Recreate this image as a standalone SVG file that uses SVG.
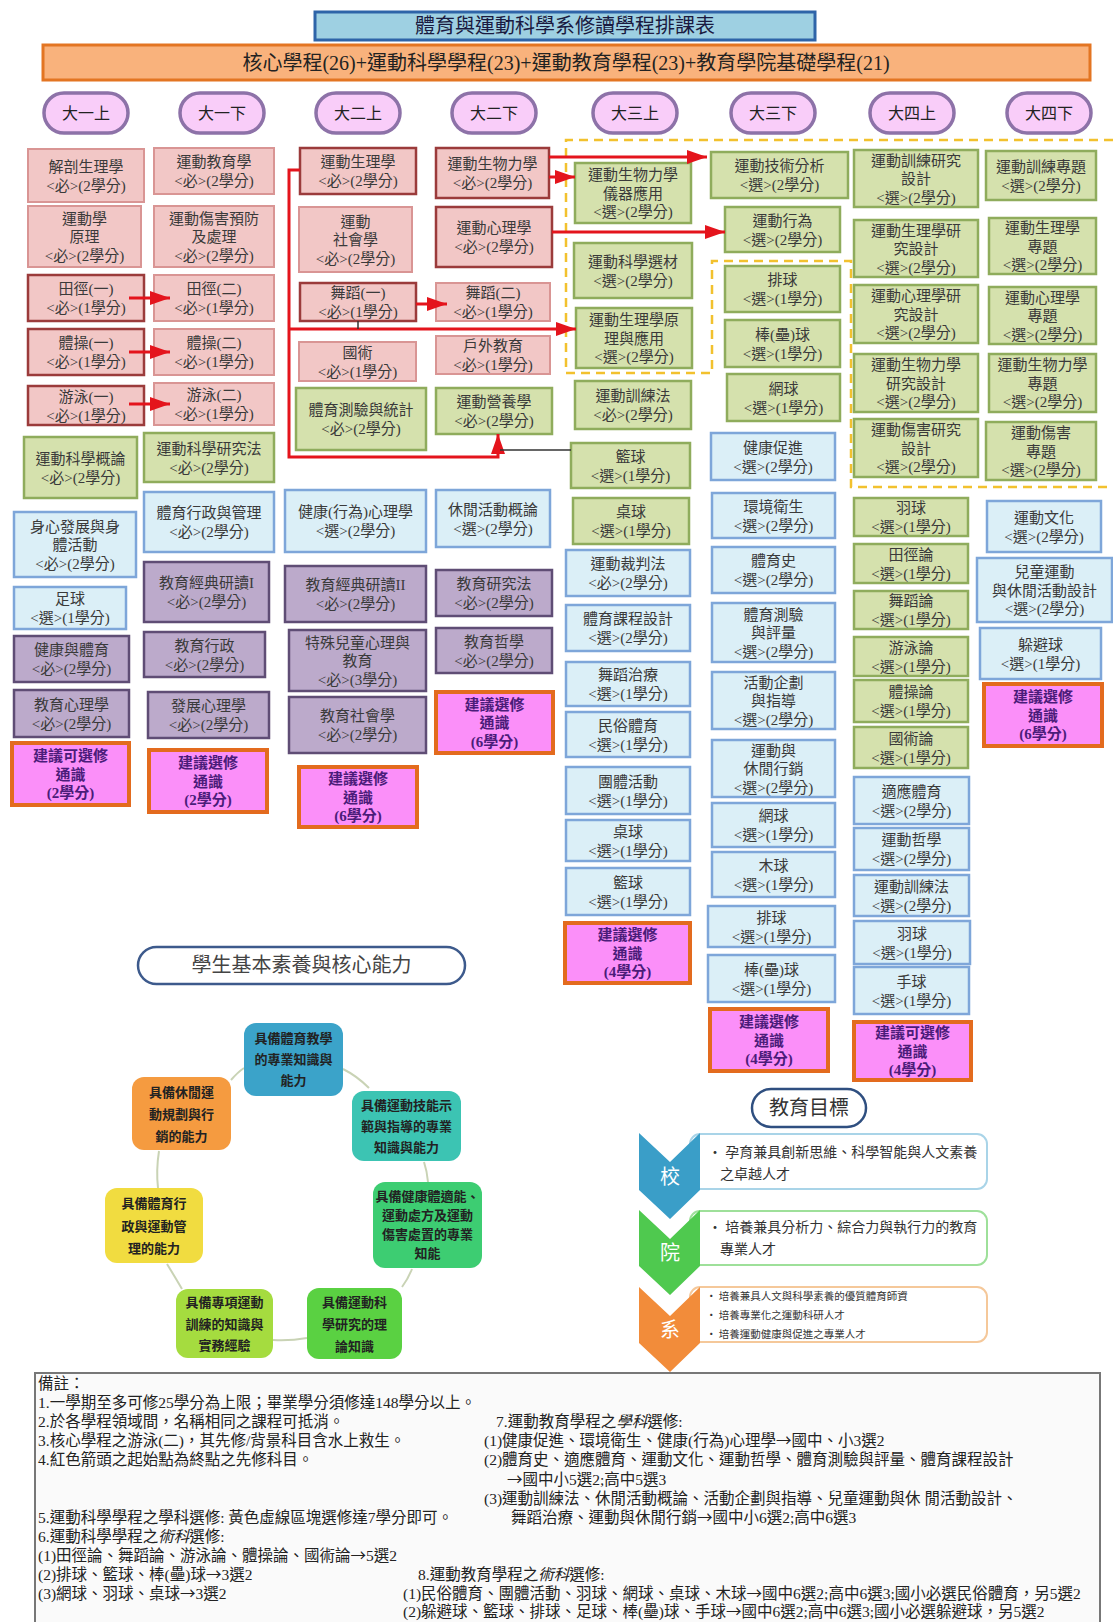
<svg xmlns="http://www.w3.org/2000/svg" width="1113" height="1622" viewBox="0 0 1113 1622">
<style>
.t{font-family:"Liberation Serif","Noto Sans CJK TC",serif;font-size:15px;fill:#3a3a3a;text-anchor:middle}
.tg{font-family:"Liberation Serif","Noto Sans CJK TC",serif;font-size:15px;fill:#4b1c7a;font-weight:bold;text-anchor:middle}
.pk{fill:#f2c7c6;stroke:#d99594;stroke-width:2}
.pkd{fill:#f2c7c6;stroke:#9b3b3b;stroke-width:2.5}
.gr{fill:#d5e1ad;stroke:#8fac5c;stroke-width:2.5}
.bl{fill:#dbeff7;stroke:#7ea6d9;stroke-width:2.5}
.pu{fill:#bcaacb;stroke:#5f4d75;stroke-width:2.5}
.ge{fill:#fb8ff9;stroke:#e36b1e;stroke-width:4}
.pill{fill:#f9cdf9;stroke:#8d72a8;stroke-width:3.5}
.pt{font-family:"Noto Sans CJK TC",sans-serif;font-size:16px;fill:#222;text-anchor:middle}
.ar{fill:none;stroke:#e4141c;stroke-width:3}
.thin{fill:none;stroke:#333;stroke-width:1.5}
.cy{font-family:"Noto Sans CJK TC",sans-serif;font-weight:bold;font-size:13px;fill:#222;text-anchor:middle}
.cl{fill:none;stroke:#c9d3b5;stroke-width:2}
.nt{font-family:"Liberation Serif","Noto Sans CJK TC",serif;font-size:15.5px;fill:#222}
.aw{font-family:"Noto Sans CJK TC",sans-serif}
.gt{font-family:"Noto Sans CJK TC",sans-serif;font-size:14px;fill:#333}
.gs{font-family:"Noto Sans CJK TC",sans-serif;font-size:10.5px;fill:#333}
.cv{font-family:"Noto Sans CJK TC",sans-serif;font-size:20px;fill:#fff;text-anchor:middle}
</style>
<defs>
<marker id="ah" markerUnits="userSpaceOnUse" markerWidth="20" markerHeight="14" refX="20" refY="7" orient="auto"><path d="M0,0 L20,7 L0,14 z" fill="#e4141c"/></marker>
</defs>
<rect width="1113" height="1622" fill="#fff"/>

<g id="title"><rect x="315" y="12" width="500" height="28" fill="#9ed0e2" stroke="#2e64a8" stroke-width="3"/><text x="565" y="33" font-family="Noto Sans CJK TC,sans-serif" font-size="20" fill="#1a1a40" text-anchor="middle">體育與運動科學系修讀學程排課表</text></g>
<g id="summary"><rect x="43" y="45" width="1047" height="35" fill="#f9b27c" stroke="#e37522" stroke-width="3"/><text x="566" y="69.5" font-family="Liberation Serif,Noto Sans CJK TC,serif" font-size="20" fill="#222" text-anchor="middle">核心學程(26)+運動科學學程(23)+運動教育學程(23)+教育學院基礎學程(21)</text></g>

<g id="semesters">
<g id="s1"><rect class="pill" x="44" y="93" width="84" height="40" rx="20"/><text class="pt" x="86" y="119">大一上</text></g>
<g id="s2"><rect class="pill" x="180" y="93" width="84" height="40" rx="20"/><text class="pt" x="222" y="119">大一下</text></g>
<g id="s3"><rect class="pill" x="316" y="93" width="84" height="40" rx="20"/><text class="pt" x="358" y="119">大二上</text></g>
<g id="s4"><rect class="pill" x="452" y="93" width="84" height="40" rx="20"/><text class="pt" x="494" y="119">大二下</text></g>
<g id="s5"><rect class="pill" x="593" y="93" width="84" height="40" rx="20"/><text class="pt" x="635" y="119">大三上</text></g>
<g id="s6"><rect class="pill" x="731" y="93" width="84" height="40" rx="20"/><text class="pt" x="773" y="119">大三下</text></g>
<g id="s7"><rect class="pill" x="870" y="93" width="84" height="40" rx="20"/><text class="pt" x="912" y="119">大四上</text></g>
<g id="s8"><rect class="pill" x="1007" y="93" width="84" height="40" rx="20"/><text class="pt" x="1049" y="119">大四下</text></g>
</g>

<g id="elective-zone"><path d="M1113,140 H566 V373 H712 V261 H851 V487 H1113" fill="none" stroke="#f2c12e" stroke-width="2.5" stroke-dasharray="9 6"/></g>

<!-- column 1 -->
<g id="n01"><rect class="pk" x="28" y="149" width="116" height="53"/><text class="t" x="86" y="171.5">解剖生理學<tspan x="86" dy="19">&lt;必&gt;(2學分)</tspan></text></g>
<g id="n02"><rect class="pk" x="28" y="206" width="113" height="61"/><text class="t" x="84.5" y="223.5">運動學<tspan x="84.5" dy="18.5">原理</tspan><tspan x="84.5" dy="18.5">&lt;必&gt;(2學分)</tspan></text></g>
<g id="n03"><rect class="pkd" x="28" y="275" width="116" height="46"/><text class="t" x="86" y="294">田徑(一)<tspan x="86" dy="19">&lt;必&gt;(1學分)</tspan></text></g>
<g id="n04"><rect class="pkd" x="28" y="329" width="116" height="46"/><text class="t" x="86" y="348">體操(一)<tspan x="86" dy="19">&lt;必&gt;(1學分)</tspan></text></g>
<g id="n05"><rect class="pkd" x="28" y="386" width="116" height="39"/><text class="t" x="86" y="401.5">游泳(一)<tspan x="86" dy="19">&lt;必&gt;(1學分)</tspan></text></g>
<g id="n06"><rect class="gr" x="24" y="437" width="113" height="61"/><text class="t" x="80.5" y="463.5">運動科學概論<tspan x="80.5" dy="19">&lt;必&gt;(2學分)</tspan></text></g>
<g id="n07"><rect class="bl" x="14" y="512" width="122" height="65"/><text class="t" x="75" y="531.5">身心發展與身<tspan x="75" dy="18.5">體活動</tspan><tspan x="75" dy="18.5">&lt;必&gt;(2學分)</tspan></text></g>
<g id="n08"><rect class="bl" x="14" y="587" width="112" height="42"/><text class="t" x="70" y="604">足球<tspan x="70" dy="19">&lt;選&gt;(1學分)</tspan></text></g>
<g id="n09"><rect class="pu" x="14" y="636" width="115" height="46"/><text class="t" x="71.5" y="655">健康與體育<tspan x="71.5" dy="19">&lt;必&gt;(2學分)</tspan></text></g>
<g id="n10"><rect class="pu" x="14" y="690" width="115" height="47"/><text class="t" x="71.5" y="709.5">教育心理學<tspan x="71.5" dy="19">&lt;必&gt;(2學分)</tspan></text></g>
<g id="n11"><rect class="ge" x="12" y="743" width="117" height="62"/><text class="tg" x="70.5" y="761">建議可選修<tspan x="70.5" dy="18.5">通識</tspan><tspan x="70.5" dy="18.5">(2學分)</tspan></text></g>

<!-- column 2 -->
<g id="n12"><rect class="pk" x="154" y="148" width="120" height="46"/><text class="t" x="214" y="167">運動教育學<tspan x="214" dy="19">&lt;必&gt;(2學分)</tspan></text></g>
<g id="n13"><rect class="pk" x="154" y="206" width="120" height="61"/><text class="t" x="214" y="223.5">運動傷害預防<tspan x="214" dy="18.5">及處理</tspan><tspan x="214" dy="18.5">&lt;必&gt;(2學分)</tspan></text></g>
<g id="n14"><rect class="pk" x="154" y="275" width="120" height="46"/><text class="t" x="214" y="294">田徑(二)<tspan x="214" dy="19">&lt;必&gt;(1學分)</tspan></text></g>
<g id="n15"><rect class="pk" x="154" y="329" width="120" height="46"/><text class="t" x="214" y="348">體操(二)<tspan x="214" dy="19">&lt;必&gt;(1學分)</tspan></text></g>
<g id="n16"><rect class="pk" x="154" y="383" width="120" height="42"/><text class="t" x="214" y="400">游泳(二)<tspan x="214" dy="19">&lt;必&gt;(1學分)</tspan></text></g>
<g id="n17"><rect class="gr" x="144" y="433" width="130" height="49"/><text class="t" x="209" y="453.5">運動科學研究法<tspan x="209" dy="19">&lt;必&gt;(2學分)</tspan></text></g>
<g id="n18"><rect class="bl" x="144" y="492" width="130" height="60"/><text class="t" x="209" y="518">體育行政與管理<tspan x="209" dy="19">&lt;必&gt;(2學分)</tspan></text></g>
<g id="n19"><rect class="pu" x="144" y="562" width="125" height="60"/><text class="t" x="206.5" y="588">教育經典研讀I<tspan x="206.5" dy="19">&lt;必&gt;(2學分)</tspan></text></g>
<g id="n20"><rect class="pu" x="144" y="632" width="121" height="45"/><text class="t" x="204.5" y="650.5">教育行政<tspan x="204.5" dy="19">&lt;必&gt;(2學分)</tspan></text></g>
<g id="n21"><rect class="pu" x="148" y="692" width="121" height="46"/><text class="t" x="208.5" y="711">發展心理學<tspan x="208.5" dy="19">&lt;必&gt;(2學分)</tspan></text></g>
<g id="n22"><rect class="ge" x="149" y="750" width="118" height="62"/><text class="tg" x="208" y="768">建議選修<tspan x="208" dy="18.5">通識</tspan><tspan x="208" dy="18.5">(2學分)</tspan></text></g>

<!-- column 3 -->
<g id="n23"><rect class="pkd" x="300" y="148" width="116" height="46"/><text class="t" x="358" y="167">運動生理學<tspan x="358" dy="19">&lt;必&gt;(2學分)</tspan></text></g>
<g id="n24"><rect class="pk" x="299" y="207" width="113" height="65"/><text class="t" x="355.5" y="226.5">運動<tspan x="355.5" dy="18.5">社會學</tspan><tspan x="355.5" dy="18.5">&lt;必&gt;(2學分)</tspan></text></g>
<g id="n25"><rect class="pkd" x="300" y="283" width="116" height="38"/><text class="t" x="358" y="298">舞蹈(一)<tspan x="358" dy="19">&lt;必&gt;(1學分)</tspan></text></g>
<g id="n26"><rect class="pk" x="299" y="342" width="117" height="39"/><text class="t" x="357.5" y="357.5">國術<tspan x="357.5" dy="19">&lt;必&gt;(1學分)</tspan></text></g>
<g id="n27"><rect class="gr" x="296" y="388" width="130" height="62"/><text class="t" x="361" y="415">體育測驗與統計<tspan x="361" dy="19">&lt;必&gt;(2學分)</tspan></text></g>
<g id="n28"><rect class="bl" x="285" y="490" width="141" height="62"/><text class="t" x="355.5" y="517">健康(行為)心理學<tspan x="355.5" dy="19">&lt;選&gt;(2學分)</tspan></text></g>
<g id="n29"><rect class="pu" x="285" y="566" width="141" height="56"/><text class="t" x="355.5" y="590">教育經典研讀II<tspan x="355.5" dy="19">&lt;必&gt;(2學分)</tspan></text></g>
<g id="n30"><rect class="pu" x="289" y="630" width="137" height="61"/><text class="t" x="357.5" y="647.5">特殊兒童心理與<tspan x="357.5" dy="18.5">教育</tspan><tspan x="357.5" dy="18.5">&lt;必&gt;(3學分)</tspan></text></g>
<g id="n31"><rect class="pu" x="289" y="697" width="137" height="56"/><text class="t" x="357.5" y="721">教育社會學<tspan x="357.5" dy="19">&lt;必&gt;(2學分)</tspan></text></g>
<g id="n32"><rect class="ge" x="299" y="767" width="118" height="60"/><text class="tg" x="358" y="784">建議選修<tspan x="358" dy="18.5">通識</tspan><tspan x="358" dy="18.5">(6學分)</tspan></text></g>

<!-- column 4 -->
<g id="n33"><rect class="pkd" x="436" y="148" width="113" height="50"/><text class="t" x="492.5" y="169">運動生物力學<tspan x="492.5" dy="19">&lt;必&gt;(2學分)</tspan></text></g>
<g id="n34"><rect class="pkd" x="436" y="207" width="116" height="60"/><text class="t" x="494" y="233">運動心理學<tspan x="494" dy="19">&lt;必&gt;(2學分)</tspan></text></g>
<g id="n35"><rect class="pk" x="436" y="283" width="114" height="38"/><text class="t" x="493" y="298">舞蹈(二)<tspan x="493" dy="19">&lt;必&gt;(1學分)</tspan></text></g>
<g id="n36"><rect class="pk" x="436" y="336" width="114" height="38"/><text class="t" x="493" y="351">戶外教育<tspan x="493" dy="19">&lt;必&gt;(1學分)</tspan></text></g>
<g id="n37"><rect class="gr" x="436" y="388" width="116" height="46"/><text class="t" x="494" y="407">運動營養學<tspan x="494" dy="19">&lt;必&gt;(2學分)</tspan></text></g>
<g id="n38"><rect class="bl" x="436" y="490" width="114" height="57"/><text class="t" x="493" y="514.5">休閒活動概論<tspan x="493" dy="19">&lt;選&gt;(2學分)</tspan></text></g>
<g id="n39"><rect class="pu" x="436" y="570" width="116" height="46"/><text class="t" x="494" y="589">教育研究法<tspan x="494" dy="19">&lt;必&gt;(2學分)</tspan></text></g>
<g id="n40"><rect class="pu" x="436" y="628" width="116" height="45"/><text class="t" x="494" y="646.5">教育哲學<tspan x="494" dy="19">&lt;必&gt;(2學分)</tspan></text></g>
<g id="n41"><rect class="ge" x="436" y="692" width="117" height="61"/><text class="tg" x="494.5" y="709.5">建議選修<tspan x="494.5" dy="18.5">通識</tspan><tspan x="494.5" dy="18.5">(6學分)</tspan></text></g>

<!-- column 5 -->
<g id="n42"><rect class="gr" x="575" y="163" width="116" height="60"/><text class="t" x="633" y="180">運動生物力學<tspan x="633" dy="18.5">儀器應用</tspan><tspan x="633" dy="18.5">&lt;選&gt;(2學分)</tspan></text></g>
<g id="n43"><rect class="gr" x="574" y="243" width="118" height="55"/><text class="t" x="633" y="266.5">運動科學選材<tspan x="633" dy="19">&lt;選&gt;(2學分)</tspan></text></g>
<g id="n44"><rect class="gr" x="576" y="308" width="116" height="60"/><text class="t" x="634" y="325">運動生理學原<tspan x="634" dy="18.5">理與應用</tspan><tspan x="634" dy="18.5">&lt;選&gt;(2學分)</tspan></text></g>
<g id="n45"><rect class="gr" x="575" y="381" width="116" height="48"/><text class="t" x="633" y="401">運動訓練法<tspan x="633" dy="19">&lt;必&gt;(2學分)</tspan></text></g>
<g id="n46"><rect class="gr" x="571" y="443" width="119" height="45"/><text class="t" x="630.5" y="461.5">籃球<tspan x="630.5" dy="19">&lt;選&gt;(1學分)</tspan></text></g>
<g id="n47"><rect class="gr" x="573" y="498" width="116" height="46"/><text class="t" x="631" y="517">桌球<tspan x="631" dy="19">&lt;選&gt;(1學分)</tspan></text></g>
<g id="n48"><rect class="bl" x="566" y="550" width="124" height="46"/><text class="t" x="628" y="569">運動裁判法<tspan x="628" dy="19">&lt;必&gt;(2學分)</tspan></text></g>
<g id="n49"><rect class="bl" x="566" y="605" width="124" height="46"/><text class="t" x="628" y="624">體育課程設計<tspan x="628" dy="19">&lt;選&gt;(2學分)</tspan></text></g>
<g id="n50"><rect class="bl" x="566" y="662" width="124" height="44"/><text class="t" x="628" y="680">舞蹈治療<tspan x="628" dy="19">&lt;選&gt;(1學分)</tspan></text></g>
<g id="n51"><rect class="bl" x="566" y="712" width="124" height="45"/><text class="t" x="628" y="730.5">民俗體育<tspan x="628" dy="19">&lt;選&gt;(1學分)</tspan></text></g>
<g id="n52"><rect class="bl" x="566" y="767" width="124" height="47"/><text class="t" x="628" y="786.5">團體活動<tspan x="628" dy="19">&lt;選&gt;(1學分)</tspan></text></g>
<g id="n53"><rect class="bl" x="566" y="820" width="124" height="41"/><text class="t" x="628" y="836.5">桌球<tspan x="628" dy="19">&lt;選&gt;(1學分)</tspan></text></g>
<g id="n54"><rect class="bl" x="566" y="868" width="124" height="47"/><text class="t" x="628" y="887.5">籃球<tspan x="628" dy="19">&lt;選&gt;(1學分)</tspan></text></g>
<g id="n55"><rect class="ge" x="565" y="923" width="125" height="60"/><text class="tg" x="627.5" y="940">建議選修<tspan x="627.5" dy="18.5">通識</tspan><tspan x="627.5" dy="18.5">(4學分)</tspan></text></g>

<!-- column 6 -->
<g id="n56"><rect class="gr" x="711" y="152" width="137" height="46"/><text class="t" x="779.5" y="171">運動技術分析<tspan x="779.5" dy="19">&lt;選&gt;(2學分)</tspan></text></g>
<g id="n57"><rect class="gr" x="725" y="207" width="115" height="45"/><text class="t" x="782.5" y="225.5">運動行為<tspan x="782.5" dy="19">&lt;選&gt;(2學分)</tspan></text></g>
<g id="n58"><rect class="gr" x="725" y="266" width="115" height="46"/><text class="t" x="782.5" y="285">排球<tspan x="782.5" dy="19">&lt;選&gt;(1學分)</tspan></text></g>
<g id="n59"><rect class="gr" x="725" y="320" width="115" height="47"/><text class="t" x="782.5" y="339.5">棒(壘)球<tspan x="782.5" dy="19">&lt;選&gt;(1學分)</tspan></text></g>
<g id="n60"><rect class="gr" x="727" y="374" width="113" height="47"/><text class="t" x="783.5" y="393.5">網球<tspan x="783.5" dy="19">&lt;選&gt;(1學分)</tspan></text></g>
<g id="n61"><rect class="bl" x="711" y="433" width="124" height="47"/><text class="t" x="773" y="452.5">健康促進<tspan x="773" dy="19">&lt;選&gt;(2學分)</tspan></text></g>
<g id="n62"><rect class="bl" x="712" y="493" width="123" height="45"/><text class="t" x="773.5" y="511.5">環境衛生<tspan x="773.5" dy="19">&lt;選&gt;(2學分)</tspan></text></g>
<g id="n63"><rect class="bl" x="712" y="547" width="123" height="46"/><text class="t" x="773.5" y="566">體育史<tspan x="773.5" dy="19">&lt;選&gt;(2學分)</tspan></text></g>
<g id="n64"><rect class="bl" x="712" y="603" width="123" height="59"/><text class="t" x="773.5" y="619.5">體育測驗<tspan x="773.5" dy="18.5">與評量</tspan><tspan x="773.5" dy="18.5">&lt;選&gt;(2學分)</tspan></text></g>
<g id="n65"><rect class="bl" x="712" y="672" width="123" height="57"/><text class="t" x="773.5" y="687.5">活動企劃<tspan x="773.5" dy="18.5">與指導</tspan><tspan x="773.5" dy="18.5">&lt;選&gt;(2學分)</tspan></text></g>
<g id="n66"><rect class="bl" x="712" y="740" width="123" height="57"/><text class="t" x="773.5" y="755.5">運動與<tspan x="773.5" dy="18.5">休閒行銷</tspan><tspan x="773.5" dy="18.5">&lt;選&gt;(2學分)</tspan></text></g>
<g id="n67"><rect class="bl" x="712" y="803" width="123" height="44"/><text class="t" x="773.5" y="821">網球<tspan x="773.5" dy="19">&lt;選&gt;(1學分)</tspan></text></g>
<g id="n68"><rect class="bl" x="712" y="852" width="123" height="45"/><text class="t" x="773.5" y="870.5">木球<tspan x="773.5" dy="19">&lt;選&gt;(1學分)</tspan></text></g>
<g id="n69"><rect class="bl" x="708" y="906" width="127" height="41"/><text class="t" x="771.5" y="922.5">排球<tspan x="771.5" dy="19">&lt;選&gt;(1學分)</tspan></text></g>
<g id="n70"><rect class="bl" x="708" y="955" width="127" height="47"/><text class="t" x="771.5" y="974.5">棒(壘)球<tspan x="771.5" dy="19">&lt;選&gt;(1學分)</tspan></text></g>
<g id="n71"><rect class="ge" x="710" y="1009" width="118" height="62"/><text class="tg" x="769" y="1027">建議選修<tspan x="769" dy="18.5">通識</tspan><tspan x="769" dy="18.5">(4學分)</tspan></text></g>

<!-- column 7 -->
<g id="n72"><rect class="gr" x="854" y="150" width="124" height="57"/><text class="t" x="916" y="165.5">運動訓練研究<tspan x="916" dy="18.5">設計</tspan><tspan x="916" dy="18.5">&lt;選&gt;(2學分)</tspan></text></g>
<g id="n73"><rect class="gr" x="854" y="220" width="124" height="57"/><text class="t" x="916" y="235.5">運動生理學研<tspan x="916" dy="18.5">究設計</tspan><tspan x="916" dy="18.5">&lt;選&gt;(2學分)</tspan></text></g>
<g id="n74"><rect class="gr" x="854" y="285" width="124" height="58"/><text class="t" x="916" y="301">運動心理學研<tspan x="916" dy="18.5">究設計</tspan><tspan x="916" dy="18.5">&lt;選&gt;(2學分)</tspan></text></g>
<g id="n75"><rect class="gr" x="854" y="354" width="124" height="58"/><text class="t" x="916" y="370">運動生物力學<tspan x="916" dy="18.5">研究設計</tspan><tspan x="916" dy="18.5">&lt;選&gt;(2學分)</tspan></text></g>
<g id="n76"><rect class="gr" x="854" y="419" width="124" height="58"/><text class="t" x="916" y="435">運動傷害研究<tspan x="916" dy="18.5">設計</tspan><tspan x="916" dy="18.5">&lt;選&gt;(2學分)</tspan></text></g>
<g id="n77"><rect class="gr" x="854" y="498" width="114" height="38"/><text class="t" x="911" y="513">羽球<tspan x="911" dy="19">&lt;選&gt;(1學分)</tspan></text></g>
<g id="n78"><rect class="gr" x="854" y="544" width="114" height="39"/><text class="t" x="911" y="559.5">田徑論<tspan x="911" dy="19">&lt;選&gt;(1學分)</tspan></text></g>
<g id="n79"><rect class="gr" x="854" y="591" width="114" height="38"/><text class="t" x="911" y="606">舞蹈論<tspan x="911" dy="19">&lt;選&gt;(1學分)</tspan></text></g>
<g id="n80"><rect class="gr" x="854" y="637" width="114" height="39"/><text class="t" x="911" y="652.5">游泳論<tspan x="911" dy="19">&lt;選&gt;(1學分)</tspan></text></g>
<g id="n81"><rect class="gr" x="854" y="680" width="114" height="42"/><text class="t" x="911" y="697">體操論<tspan x="911" dy="19">&lt;選&gt;(1學分)</tspan></text></g>
<g id="n82"><rect class="gr" x="854" y="727" width="114" height="41"/><text class="t" x="911" y="743.5">國術論<tspan x="911" dy="19">&lt;選&gt;(1學分)</tspan></text></g>
<g id="n83"><rect class="bl" x="854" y="777" width="115" height="47"/><text class="t" x="911.5" y="796.5">適應體育<tspan x="911.5" dy="19">&lt;選&gt;(2學分)</tspan></text></g>
<g id="n84"><rect class="bl" x="854" y="828" width="115" height="42"/><text class="t" x="911.5" y="845">運動哲學<tspan x="911.5" dy="19">&lt;選&gt;(2學分)</tspan></text></g>
<g id="n85"><rect class="bl" x="854" y="875" width="115" height="41"/><text class="t" x="911.5" y="891.5">運動訓練法<tspan x="911.5" dy="19">&lt;選&gt;(2學分)</tspan></text></g>
<g id="n86"><rect class="bl" x="854" y="921" width="116" height="43"/><text class="t" x="912" y="938.5">羽球<tspan x="912" dy="19">&lt;選&gt;(1學分)</tspan></text></g>
<g id="n87"><rect class="bl" x="854" y="967" width="115" height="47"/><text class="t" x="911.5" y="986.5">手球<tspan x="911.5" dy="19">&lt;選&gt;(1學分)</tspan></text></g>
<g id="n88"><rect class="ge" x="854" y="1022" width="117" height="58"/><text class="tg" x="912.5" y="1038">建議可選修<tspan x="912.5" dy="18.5">通識</tspan><tspan x="912.5" dy="18.5">(4學分)</tspan></text></g>

<!-- column 8 -->
<g id="n89"><rect class="gr" x="986" y="151" width="110" height="49"/><text class="t" x="1041" y="171.5">運動訓練專題<tspan x="1041" dy="19">&lt;選&gt;(2學分)</tspan></text></g>
<g id="n90"><rect class="gr" x="989" y="218" width="107" height="56"/><text class="t" x="1042.5" y="233">運動生理學<tspan x="1042.5" dy="18.5">專題</tspan><tspan x="1042.5" dy="18.5">&lt;選&gt;(2學分)</tspan></text></g>
<g id="n91"><rect class="gr" x="989" y="287" width="107" height="57"/><text class="t" x="1042.5" y="302.5">運動心理學<tspan x="1042.5" dy="18.5">專題</tspan><tspan x="1042.5" dy="18.5">&lt;選&gt;(2學分)</tspan></text></g>
<g id="n92"><rect class="gr" x="989" y="354" width="107" height="58"/><text class="t" x="1042.5" y="370">運動生物力學<tspan x="1042.5" dy="18.5">專題</tspan><tspan x="1042.5" dy="18.5">&lt;選&gt;(2學分)</tspan></text></g>
<g id="n93"><rect class="gr" x="986" y="422" width="110" height="58"/><text class="t" x="1041" y="438">運動傷害<tspan x="1041" dy="18.5">專題</tspan><tspan x="1041" dy="18.5">&lt;選&gt;(2學分)</tspan></text></g>
<g id="n94"><rect class="bl" x="987" y="501" width="114" height="51"/><text class="t" x="1044" y="522.5">運動文化<tspan x="1044" dy="19">&lt;選&gt;(2學分)</tspan></text></g>
<g id="n95"><rect class="bl" x="977" y="558" width="135" height="64"/><text class="t" x="1044.5" y="577">兒童運動<tspan x="1044.5" dy="18.5">與休閒活動設計</tspan><tspan x="1044.5" dy="18.5">&lt;選&gt;(2學分)</tspan></text></g>
<g id="n96"><rect class="bl" x="980" y="628" width="121" height="51"/><text class="t" x="1040.5" y="649.5">躲避球<tspan x="1040.5" dy="19">&lt;選&gt;(1學分)</tspan></text></g>
<g id="n97"><rect class="ge" x="984" y="684" width="118" height="62"/><text class="tg" x="1043" y="702">建議選修<tspan x="1043" dy="18.5">通識</tspan><tspan x="1043" dy="18.5">(6學分)</tspan></text></g>

<g id="connectors">
<path class="ar" d="M129,298 H170" marker-end="url(#ah)"/>
<path class="ar" d="M129,352 H170" marker-end="url(#ah)"/>
<path class="ar" d="M129,404 H170" marker-end="url(#ah)"/>
<path class="ar" d="M416,304 H447" marker-end="url(#ah)"/>
<path class="ar" d="M549,157 H707" marker-end="url(#ah)"/>
<path class="ar" d="M549,177 H575" marker-end="url(#ah)"/>
<path class="ar" d="M552,232 H725" marker-end="url(#ah)"/>
<path class="ar" d="M300,170 H289 V457 H498 V434" marker-end="url(#ah)"/>
<path class="ar" d="M289,329 H576" marker-end="url(#ah)"/>
<path class="thin" d="M358,321 V329"/>
<path class="thin" d="M571,450 H500"/>
</g>

<g id="competency-title"><rect x="138" y="947" width="327" height="37" rx="18.5" fill="#fff" stroke="#3d5a8c" stroke-width="2.5"/><text x="301.5" y="972" font-family="Noto Sans CJK TC,sans-serif" font-size="20" fill="#444" text-anchor="middle">學生基本素養與核心能力</text></g>

<g id="cycle-links">
<path class="cl" d="M231,1080 Q238,1072 244,1068"/>
<path class="cl" d="M343,1069 Q357,1076 369,1088"/>
<path class="cl" d="M424,1162 Q427,1171 428,1182"/>
<path class="cl" d="M412,1269 Q408,1279 402,1287"/>
<path class="cl" d="M307,1338 Q290,1341 273,1340"/>
<path class="cl" d="M182,1289 Q175,1277 167,1264"/>
<path class="cl" d="M158,1188 Q156,1170 159,1151"/>
</g>
<g id="c1"><rect x="244" y="1023" width="99" height="73" rx="12" fill="#3ba3c9"/><text class="cy" x="293.5" y="1043">具備體育教學<tspan x="293.5" dy="21">的專業知識與</tspan><tspan x="293.5" dy="21">能力</tspan></text></g>
<g id="c2"><rect x="352" y="1091" width="109" height="70" rx="12" fill="#3cc4b3"/><text class="cy" x="406.5" y="1110">具備運動技能示<tspan x="406.5" dy="21">範與指導的專業</tspan><tspan x="406.5" dy="21">知識與能力</tspan></text></g>
<g id="c3"><rect x="373" y="1182" width="109" height="86" rx="12" fill="#3dcd72"/><text class="cy" x="427.5" y="1201" font-size="12">具備健康體適能、<tspan x="427.5" dy="19">運動處方及運動</tspan><tspan x="427.5" dy="19">傷害處置的專業</tspan><tspan x="427.5" dy="19">知能</tspan></text></g>
<g id="c4"><rect x="307" y="1288" width="95" height="71" rx="12" fill="#5ad142"/><text class="cy" x="354.5" y="1307" font-size="14">具備運動科<tspan x="354.5" dy="22">學研究的理</tspan><tspan x="354.5" dy="22">論知識</tspan></text></g>
<g id="c5"><rect x="176" y="1289" width="97" height="69" rx="12" fill="#a5dc3f"/><text class="cy" x="224.5" y="1307">具備專項運動<tspan x="224.5" dy="21.5">訓練的知識與</tspan><tspan x="224.5" dy="21.5">實務經驗</tspan></text></g>
<g id="c6"><rect x="105" y="1188" width="98" height="75" rx="12" fill="#f1dc40"/><text class="cy" x="154" y="1208" font-size="14">具備體育行<tspan x="154" dy="22.5">政與運動管</tspan><tspan x="154" dy="22.5">理的能力</tspan></text></g>
<g id="c7"><rect x="132" y="1077" width="99" height="73" rx="12" fill="#f59b40"/><text class="cy" x="181.5" y="1097" font-size="14">具備休閒運<tspan x="181.5" dy="22">動規劃與行</tspan><tspan x="181.5" dy="22">銷的能力</tspan></text></g>

<g id="goals-title"><rect x="752" y="1089" width="114" height="38" rx="19" fill="#fff" stroke="#2f4f80" stroke-width="2.5"/><text x="809" y="1115" font-family="Noto Sans CJK TC,sans-serif" font-size="20" fill="#333" text-anchor="middle">教育目標</text></g>
<g id="g-school"><rect x="690" y="1134" width="297" height="55" rx="10" fill="#fff" stroke="#a9d4e8" stroke-width="2"/><polygon points="639,1133 670,1162 700,1133 700,1190 670,1219 639,1190" fill="#3a9ec8"/><text class="cv" x="670" y="1184">校</text><text class="gt" x="708" y="1157">• 孕育兼具創新思維、科學智能與人文素養</text><text class="gt" x="720" y="1179">之卓越人才</text></g>
<g id="g-college"><rect x="690" y="1211" width="297" height="54" rx="10" fill="#fff" stroke="#9ee09a" stroke-width="2"/><polygon points="639,1210 670,1239 700,1210 700,1266 670,1295 639,1266" fill="#4fc94f"/><text class="cv" x="670" y="1260">院</text><text class="gt" x="708" y="1232">• 培養兼具分析力、綜合力與執行力的教育</text><text class="gt" x="720" y="1254">專業人才</text></g>
<g id="g-dept"><rect x="690" y="1287" width="297" height="55" rx="10" fill="#fff" stroke="#f5c89a" stroke-width="2"/><polygon points="639,1287 670,1316 700,1287 700,1343 670,1372 639,1343" fill="#f28c3a"/><text class="cv" x="670" y="1337">系</text><text class="gs" x="706" y="1300">• 培養兼具人文與科學素養的優質體育師資</text><text class="gs" x="706" y="1319">• 培養專業化之運動科研人才</text><text class="gs" x="706" y="1338">• 培養運動健康與促進之專業人才</text></g>

<g id="notes">
<rect x="35" y="1373" width="1065" height="260" fill="#fafafa" stroke="#777" stroke-width="2"/>
<text class="nt" x="38" y="1389">備註：</text>
<text class="nt" x="38" y="1408">1.一學期至多可修25學分為上限；畢業學分須修達148學分以上。</text>
<text class="nt" x="38" y="1427">2.於各學程領域間，名稱相同之課程可抵消。</text>
<text class="nt" x="38" y="1446">3.核心學程之游泳(二)，其先修/背景科目含水上救生。</text>
<text class="nt" x="38" y="1465">4.紅色箭頭之起始點為終點之先修科目。</text>
<text class="nt" x="38" y="1523">5.運動科學學程之學科選修: 黃色虛線區塊選修達7學分即可。</text>
<text class="nt" x="38" y="1542">6.運動科學學程之<tspan font-style="italic">術科</tspan>選修:</text>
<text class="nt" x="38" y="1561">(1)田徑論、舞蹈論、游泳論、體操論、國術論<tspan class="aw">→</tspan>5選2</text>
<text class="nt" x="38" y="1580">(2)排球、籃球、棒(壘)球<tspan class="aw">→</tspan>3選2</text>
<text class="nt" x="38" y="1599">(3)網球、羽球、桌球<tspan class="aw">→</tspan>3選2</text>
<text class="nt" x="496" y="1427">7.運動教育學程之<tspan font-style="italic">學科</tspan>選修:</text>
<text class="nt" x="484" y="1446">(1)健康促進、環境衛生、健康(行為)心理學<tspan class="aw">→</tspan>國中、小3選2</text>
<text class="nt" x="484" y="1465">(2)體育史、適應體育、運動文化、運動哲學、體育測驗與評量、體育課程設計</text>
<text class="nt" x="507" y="1485"><tspan class="aw">→</tspan>國中小5選2;高中5選3</text>
<text class="nt" x="484" y="1504">(3)運動訓練法、休閒活動概論、活動企劃與指導、兒童運動與休 閒活動設計、</text>
<text class="nt" x="511" y="1523">舞蹈治療、運動與休閒行銷<tspan class="aw">→</tspan>國中小6選2;高中6選3</text>
<text class="nt" x="418" y="1580">8.運動教育學程之<tspan font-style="italic">術科</tspan>選修:</text>
<text class="nt" x="403" y="1599">(1)民俗體育、團體活動、羽球、網球、桌球、木球<tspan class="aw">→</tspan>國中6選2;高中6選3;國小必選民俗體育，另5選2</text>
<text class="nt" x="403" y="1617">(2)躲避球、籃球、排球、足球、棒(壘)球、手球<tspan class="aw">→</tspan>國中6選2;高中6選3;國小必選躲避球，另5選2</text>
</g>
</svg>
